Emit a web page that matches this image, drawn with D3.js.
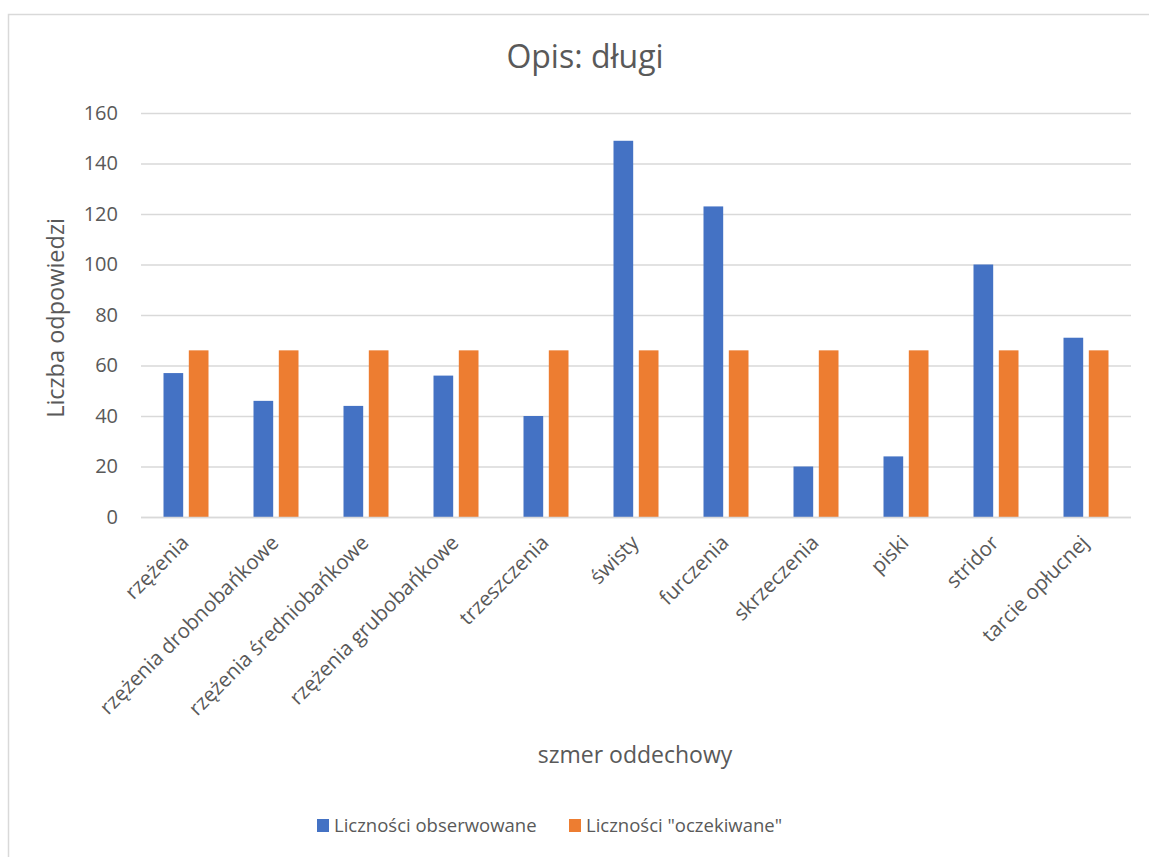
<!DOCTYPE html>
<html>
<head>
<meta charset="utf-8">
<script src="https://cdn.jsdelivr.net/npm/d3@7"></script>
<style>
  html, body { margin: 0; padding: 0; background: #fff; }
  svg { display: block; }
  text { font-family: "Open Sans", "Noto Sans", sans-serif; fill: #595959; }
</style>
</head>
<body>
<svg id="chart" width="1149" height="857"></svg>
<script>
// Category labels (respiratory sounds)
const categories = [
  "rzężenia",
  "rzężenia drobnobańkowe",
  "rzężenia średniobańkowe",
  "rzężenia grubobańkowe",
  "trzeszczenia",
  "świsty",
  "furczenia",
  "skrzeczenia",
  "piski",
  "stridor",
  "tarcie opłucnej"
];
// Series names
const seriesNames = ["Liczności obserwowane", "Liczności \"oczekiwane\""];
// Observed counts
const observed = [57, 46, 44, 56, 40, 149, 123, 20, 24, 100, 71];
// Expected counts
const expected = [66, 66, 66, 66, 66, 66, 66, 66, 66, 66, 66];
// Y axis ticks
const yTicks = [0, 20, 40, 60, 80, 100, 120, 140, 160];

const colors = ["#4472C4", "#ED7D31"];
const svg = d3.select("#chart");

// Outer chart frame
svg.append("rect")
  .attr("x", 8.5).attr("y", 14.5)
  .attr("width", 1160).attr("height", 860)
  .attr("fill", "none").attr("stroke", "#d9d9d9").attr("stroke-width", 1.5);

const plot = { left: 141, right: 1131, top: 113, bottom: 517 };

const x = d3.scaleBand().domain(categories).range([plot.left, plot.right]).padding(0);
const xs = d3.scaleBand().domain(seriesNames)
  .range([x.bandwidth() * 0.25, x.bandwidth() * 0.75])
  .paddingInner(0.222);
const y = d3.scaleLinear().domain([0, 160]).range([plot.bottom, plot.top]);

// Gridlines + y tick labels
const yAxis = d3.axisLeft(y).tickValues(yTicks)
  .tickSize(-(plot.right - plot.left)).tickPadding(23);
const gy = svg.append("g").attr("transform", `translate(${plot.left},0)`).call(yAxis);
gy.select(".domain").remove();
gy.selectAll(".tick line").attr("stroke", "#d9d9d9").attr("stroke-width", 1.5);
gy.selectAll(".tick text")
  .style("font-size", "20px").style("fill", "#595959");

// Bars
const rows = categories.map((c, i) => ({ cat: c, vals: [observed[i], expected[i]] }));
const groups = svg.append("g").selectAll("g").data(rows).join("g")
  .attr("transform", d => `translate(${x(d.cat)},0)`);
groups.selectAll("rect")
  .data(d => d.vals.map((v, k) => ({ key: seriesNames[k], v, k })))
  .join("rect")
  .attr("x", d => xs(d.key))
  .attr("width", xs.bandwidth())
  .attr("y", d => y(d.v))
  .attr("height", d => y(0) - y(d.v))
  .attr("fill", d => colors[d.k]);

// Category axis line
svg.append("line")
  .attr("x1", plot.left).attr("x2", plot.right)
  .attr("y1", plot.bottom + 0.5).attr("y2", plot.bottom + 0.5)
  .attr("stroke", "#d9d9d9").attr("stroke-width", 1.5);

// Rotated category labels
const xAxis = d3.axisBottom(x).tickSize(0).tickPadding(0);
const gx = svg.append("g").attr("transform", `translate(0,${plot.bottom})`).call(xAxis);
gx.select(".domain").remove();
gx.selectAll(".tick text")
  .style("font-size", "20.5px").style("fill", "#595959")
  .attr("text-anchor", "end")
  .attr("dy", null).attr("y", 0)
  .attr("transform", "translate(4,27) rotate(-45)");

// Title
svg.append("text")
  .attr("x", 585).attr("y", 68)
  .attr("text-anchor", "middle")
  .style("font-size", "32px")
  .text("Opis: długi");

// Axis titles
svg.append("text")
  .attr("transform", "translate(64,318) rotate(-90)")
  .attr("text-anchor", "middle")
  .style("font-size", "23.5px")
  .text("Liczba odpowiedzi");

svg.append("text")
  .attr("x", 635).attr("y", 763)
  .attr("text-anchor", "middle")
  .style("font-size", "23px")
  .text("szmer oddechowy");

// Legend
const legendX = [317, 569];
const lg = svg.append("g").selectAll("g").data(seriesNames).join("g")
  .attr("transform", (d, i) => `translate(${legendX[i]},819)`);
lg.append("rect").attr("width", 12).attr("height", 13).attr("fill", (d, i) => colors[i]);
lg.append("text").attr("x", 17).attr("y", 13)
  .style("font-size", "18.5px")
  .text(d => d);
</script>
</body>
</html>
